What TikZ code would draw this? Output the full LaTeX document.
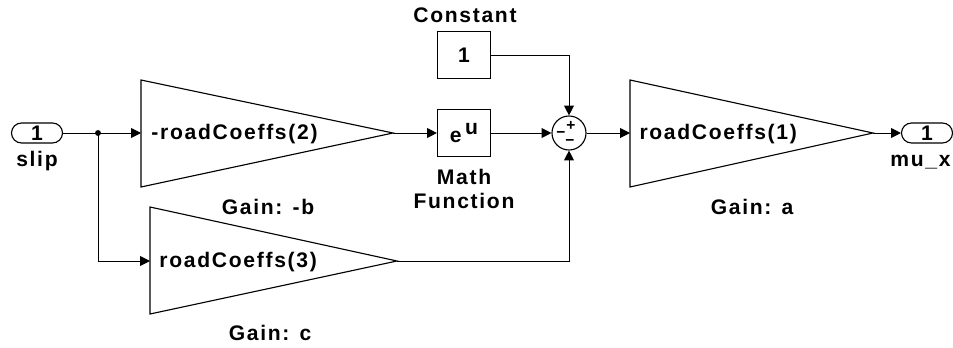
\documentclass[tikz,border=0pt]{standalone}
\usepackage{fontspec}
\setmainfont[LetterSpace=8]{Liberation Sans}
\usetikzlibrary{arrows.meta,positioning,calc}

\begin{document}
\begin{tikzpicture}[x=0.025cm,y=-0.025cm,>={Triangle[length=7pt,width=7pt]},
  font=\bfseries\fontsize{15}{16.5}\selectfont,line width=0.7pt,
  blockbox/.style={draw,line width=0.8pt,minimum width=1.325cm,minimum height=1.175cm,inner sep=0pt},
  portbox/.style={draw,line width=0.8pt,rounded corners=0.25cm,minimum width=1.275cm,minimum height=0.5cm,inner sep=0pt},
  gaintri/.style={draw,line width=0.8pt},
  lbl/.style={inner sep=0pt,align=center},
  sign/.style={inner sep=0pt,font=\bfseries\fontsize{11}{11}\selectfont}]
\useasboundingbox (0,0) rectangle (953,348);
% input port and branch point
\node[portbox] (slip) at (37,133) {1};
\node[lbl] (sliplbl) at (37,161) {slip};
\coordinate (split) at (98,133);
\fill (split) circle (2.1pt);
% gain -b
\draw[gaintri] (141,80) -- (393,133) -- (141,187) -- cycle;
\coordinate (gainbin) at (141,133);
\coordinate (gainbout) at (393,133);
\node[lbl,anchor=west] (gainb) at (151,134) {-roadCoeffs(2)};
\node[lbl] (gainblbl) at (268,207) {Gain: -b};
% gain c
\draw[gaintri] (150,207) -- (397,261) -- (150,314) -- cycle;
\coordinate (gaincin) at (150,261);
\coordinate (gaincout) at (397,261);
\node[lbl,anchor=west] (gainc) at (159,262) {roadCoeffs(3)};
\node[lbl] (gainclbl) at (270,333) {Gain: c};
% constant and math function
\node[blockbox] (const) at (464,55) {1};
\node[lbl] (constlbl) at (465,15) {Constant};
\node[blockbox] (mathfn) at (464,133) {e\,\raisebox{0.42em}{u}};
\node[lbl] (mathlbl) at (464,189) {Math\\Function};
% sum
\node[draw,circle,line width=0.8pt,minimum size=0.85cm,inner sep=0pt] (sum) at (569,133) {};
\node[sign] (sumtop) at (571,126) {+};
\node[sign] (sumleft) at (561,135) {−};
\node[sign] (sumbot) at (570,143) {−};
% gain a and output port
\draw[gaintri] (630,80) -- (873,133) -- (630,187) -- cycle;
\coordinate (gainain) at (630,133);
\coordinate (gainaout) at (873,133);
\node[lbl,anchor=west] (gaina) at (639,134) {roadCoeffs(1)};
\node[lbl] (gainalbl) at (752,207) {Gain: a};
\node[portbox] (mux) at (927,133) {1};
\node[lbl,anchor=east] (muxlbl) at (951,162) {mu\_x};
% connectors
\draw (slip) -- (split);
\draw[->] (split) -- (gainbin);
\draw[->] (split) |- (gaincin);
\draw[->] (gainbout) -- (mathfn);
\draw[->] (mathfn) -- (sum);
\draw[->] (const) -| (sum);
\draw[->] (gaincout) -| (sum);
\draw[->] (sum) -- (gainain);
\draw[->] (gainaout) -- (mux);
\end{tikzpicture}
\end{document}
